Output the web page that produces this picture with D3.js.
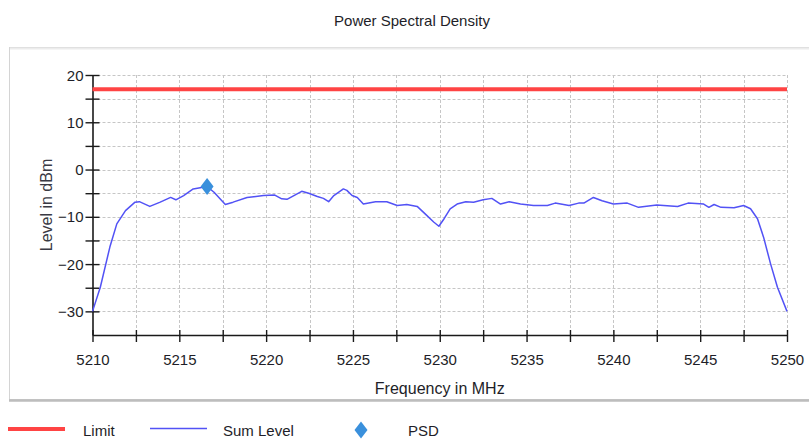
<!DOCTYPE html>
<html>
<head>
<meta charset="utf-8">
<script src="https://cdn.jsdelivr.net/npm/d3@7"></script>
<style>
  html, body { margin: 0; padding: 0; background: #fff; }
  svg { display: block; font-family: "Liberation Sans", Arial, sans-serif; }
</style>
</head>
<body>
<svg id="chart" width="809" height="439"></svg>
<script>
// Measured spectrum: frequency (MHz) and summed level (dBm)
const frequency = [
  5210.0, 5210.45, 5211.0, 5211.4, 5211.9, 5212.45, 5212.7, 5213.3, 5213.9, 5214.5,
  5214.8, 5215.25, 5215.8, 5216.6, 5217.0, 5217.65, 5218.1, 5218.9, 5219.85, 5220.5,
  5220.9, 5221.2, 5221.6, 5222.05, 5222.45, 5222.95, 5223.3, 5223.6, 5223.9, 5224.45,
  5224.65, 5224.95, 5225.25, 5225.6, 5226.3, 5226.95, 5227.55, 5228.1, 5228.7, 5229.25,
  5229.65, 5229.95, 5230.25, 5230.6, 5231.0, 5231.5, 5231.95, 5232.5, 5233.0, 5233.5,
  5234.0, 5234.65, 5235.4, 5236.2, 5236.65, 5237.45, 5238.0, 5238.3, 5238.85, 5239.35,
  5240.0, 5240.8, 5241.45, 5242.5, 5243.7, 5244.3, 5245.2, 5245.5, 5245.8, 5246.2,
  5246.95, 5247.5, 5247.9, 5248.3, 5248.65, 5249.05, 5249.45, 5250.0
];
const sumLevel = [
  -30.0, -24.9, -16.4, -11.5, -8.7, -6.9, -6.8, -7.8, -6.9, -5.9,
  -6.4, -5.5, -4.1, -3.6, -4.8, -7.4, -6.9, -5.9, -5.5, -5.4,
  -6.2, -6.3, -5.5, -4.6, -5.0, -5.7, -6.1, -6.8, -5.5, -4.1,
  -4.4, -5.5, -5.9, -7.3, -6.8, -6.8, -7.6, -7.4, -7.8, -9.7,
  -11.1, -12.0, -10.4, -8.3, -7.3, -6.8, -6.9, -6.4, -6.1, -7.3,
  -6.8, -7.3, -7.6, -7.6, -7.1, -7.6, -7.1, -7.1, -5.9, -6.6,
  -7.3, -7.1, -8.0, -7.5, -7.8, -7.1, -7.3, -8.0, -7.4, -8.0,
  -8.1, -7.6, -8.3, -10.4, -14.3, -19.9, -24.9, -30.0
];
// Limit line (dBm) across the band
const limitFreq = [5210, 5250];
const limitLevel = [17, 17];
// PSD peak marker
const psdFreq = [5216.6];
const psdLevel = [-3.6];
// Axis ticks
const xTicks = d3.range(5210, 5250.01, 2.5);
const yTicks = d3.range(-30, 20.01, 5);
const legendItems = ["Limit", "Sum Level", "PSD"];

const svg = d3.select("#chart");
const textColor = "#1e1e28";

// Outer panel frame
svg.append("rect").attr("x", 9.5).attr("y", 47.5).attr("width", 830).attr("height", 352)
  .attr("fill", "#fff").attr("stroke", "#d4d4d4");
svg.append("line").attr("x1", 9).attr("x2", 809).attr("y1", 400.5).attr("y2", 400.5)
  .attr("stroke", "#bdbdbd").attr("stroke-width", 2.5);
svg.append("line").attr("x1", 10).attr("x2", 809).attr("y1", 48.5).attr("y2", 48.5)
  .attr("stroke", "#ececec").attr("stroke-width", 2);

const x = d3.scaleLinear().domain([5210, 5250]).range([92.5, 787]);
const y = d3.scaleLinear().domain([-35, 20]).range([335, 75]);

// Dashed grid
const grid = svg.append("g").attr("stroke", "#c6c6c6").attr("stroke-dasharray", "3,2").attr("stroke-width", 1);
grid.selectAll("line.v").data(xTicks.filter(d => d > 5210)).join("line")
  .attr("x1", d => Math.round(x(d)) + 0.5).attr("x2", d => Math.round(x(d)) + 0.5)
  .attr("y1", y(20)).attr("y2", y(-35));
grid.selectAll("line.h").data(yTicks).join("line")
  .attr("x1", x(5210)).attr("x2", x(5250))
  .attr("y1", d => Math.round(y(d)) + 0.5).attr("y2", d => Math.round(y(d)) + 0.5);

// Axes
const xAxis = svg.append("g").attr("transform", `translate(0,${y(-35)})`)
  .call(d3.axisBottom(x).tickValues(xTicks).tickSizeOuter(0)
    .tickFormat(d => d % 5 === 0 ? d3.format("d")(d) : ""));
xAxis.selectAll(".tick line").attr("y1", -5).attr("y2", 7);
xAxis.selectAll(".tick text").attr("y", 25).attr("dy", "0.35em");

const yAxis = svg.append("g").attr("transform", `translate(${x(5210)},0)`)
  .call(d3.axisLeft(y).tickValues(yTicks).tickSizeOuter(0)
    .tickFormat(d => d % 10 === 0 ? d3.format("d")(d) : ""));
yAxis.selectAll(".tick line").attr("x1", 7).attr("x2", -7);
yAxis.selectAll(".tick text").attr("x", -9).attr("dy", "0.34em");

[xAxis, yAxis].forEach(a => {
  a.select(".domain").attr("stroke", "#1a1a1a").attr("stroke-width", 1.6);
  a.selectAll(".tick line").attr("stroke", "#1a1a1a").attr("stroke-width", 1.4);
  a.selectAll(".tick text").attr("fill", textColor).attr("font-size", 15)
    .attr("font-family", "'Liberation Sans', Arial, sans-serif");
});

// Limit line
const limitData = limitFreq.map((f, i) => [f, limitLevel[i]]);
svg.append("path").datum(limitData)
  .attr("d", d3.line().x(d => x(d[0])).y(d => y(d[1])))
  .attr("fill", "none").attr("stroke", "#ff4444").attr("stroke-width", 4);

// Sum level trace
const sumData = frequency.map((f, i) => [f, sumLevel[i]]);
svg.append("path").datum(sumData)
  .attr("d", d3.line().x(d => x(d[0])).y(d => y(d[1])))
  .attr("fill", "none").attr("stroke", "#5252f5").attr("stroke-width", 1.5)
  .attr("stroke-linejoin", "round");

// PSD marker (diamond)
const diamond = (hw, hh) => `M0,${-hh}L${hw},0L0,${hh}L${-hw},0Z`;
svg.selectAll("path.psd").data(psdFreq.map((f, i) => [f, psdLevel[i]])).join("path")
  .attr("class", "psd")
  .attr("transform", d => `translate(${x(d[0])},${y(d[1])})`)
  .attr("d", diamond(6.5, 8.5)).attr("fill", "#3a90dc");

// Titles
svg.append("text").attr("x", 412).attr("y", 21).attr("dy", "0.35em")
  .attr("text-anchor", "middle").attr("font-size", 15).attr("fill", textColor)
  .text("Power Spectral Density");
svg.append("text").attr("x", (x(5210) + x(5250)) / 2).attr("y", 388).attr("dy", "0.35em")
  .attr("text-anchor", "middle").attr("font-size", 16).attr("fill", textColor)
  .text("Frequency in MHz");
svg.append("text").attr("transform", `translate(46,${(y(20) + y(-35)) / 2}) rotate(-90)`)
  .attr("dy", "0.35em").attr("text-anchor", "middle").attr("font-size", 16).attr("fill", "#3a3a44")
  .text("Level in dBm");

// Legend
const lg = svg.append("g");
lg.append("line").attr("x1", 8).attr("x2", 65).attr("y1", 429).attr("y2", 429)
  .attr("stroke", "#ff4444").attr("stroke-width", 4);
lg.append("line").attr("x1", 150).attr("x2", 207).attr("y1", 428.5).attr("y2", 428.5)
  .attr("stroke", "#5252f5").attr("stroke-width", 1.5);
lg.append("path").attr("transform", "translate(361,430)").attr("d", diamond(6.5, 8.5)).attr("fill", "#3a90dc");
const legendX = [83, 223, 408];
lg.selectAll("text").data(legendItems).join("text")
  .attr("x", (d, i) => legendX[i]).attr("y", 431).attr("dy", "0.35em")
  .attr("font-size", 15).attr("fill", textColor).text(d => d);
</script>
</body>
</html>
